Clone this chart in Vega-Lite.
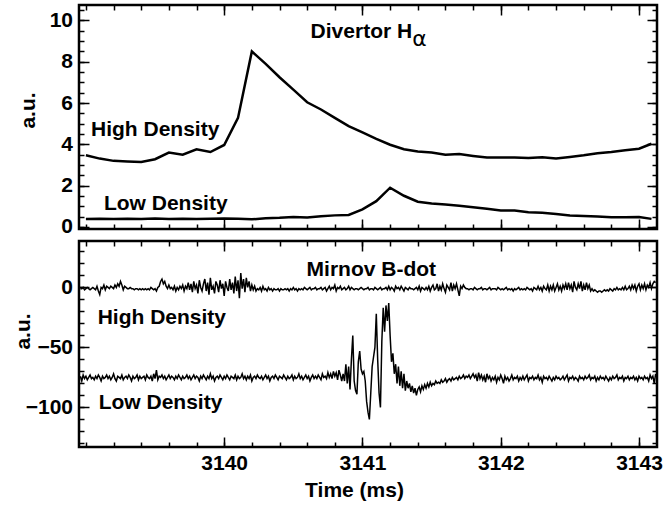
{
"$schema":"https://vega.github.io/schema/vega-lite/v6.json",
"background":"white",
"padding":{"left":10,"top":3,"right":5,"bottom":5},
"spacing":0,
"config":{
"view":{"stroke":"black","strokeWidth":2.5},
"axis":{"domain":false,"grid":false,"tickColor":"black","tickWidth":1.5,"labelFont":"Liberation Sans","labelFontWeight":"bold","labelFontSize":21,"labelColor":"black","titleFont":"Liberation Sans","titleFontWeight":"bold","titleFontSize":21,"titleColor":"black"},
"text":{"font":"Liberation Sans","fontWeight":"bold","fontSize":21,"color":"black","align":"left","baseline":"alphabetic"}
},
"datasets":{
"ha":[
{"t":3139.0,"hi":3.47,"lo":0.38},{"t":3139.1,"hi":3.31,"lo":0.4},{"t":3139.2,"hi":3.2,"lo":0.38},{"t":3139.3,"hi":3.17,"lo":0.4},{"t":3139.4,"hi":3.15,"lo":0.38},{"t":3139.5,"hi":3.28,"lo":0.41},{"t":3139.6,"hi":3.6,"lo":0.39},{"t":3139.7,"hi":3.5,"lo":0.4},{"t":3139.8,"hi":3.76,"lo":0.38},{"t":3139.9,"hi":3.63,"lo":0.4},
{"t":3140.0,"hi":3.97,"lo":0.41},{"t":3140.1,"hi":5.28,"lo":0.4},{"t":3140.2,"hi":8.5,"lo":0.37},{"t":3140.3,"hi":7.9,"lo":0.42},{"t":3140.4,"hi":7.25,"lo":0.44},{"t":3140.5,"hi":6.65,"lo":0.48},{"t":3140.6,"hi":6.04,"lo":0.46},{"t":3140.7,"hi":5.69,"lo":0.52},{"t":3140.8,"hi":5.28,"lo":0.56},{"t":3140.9,"hi":4.88,"lo":0.58},
{"t":3141.0,"hi":4.58,"lo":0.85},{"t":3141.1,"hi":4.27,"lo":1.25},{"t":3141.2,"hi":3.98,"lo":1.9},{"t":3141.3,"hi":3.76,"lo":1.51},{"t":3141.4,"hi":3.65,"lo":1.22},{"t":3141.5,"hi":3.6,"lo":1.14},{"t":3141.6,"hi":3.5,"lo":1.09},{"t":3141.7,"hi":3.53,"lo":1.03},{"t":3141.8,"hi":3.44,"lo":0.95},{"t":3141.9,"hi":3.36,"lo":0.88},
{"t":3142.0,"hi":3.36,"lo":0.8},{"t":3142.1,"hi":3.36,"lo":0.8},{"t":3142.2,"hi":3.34,"lo":0.71},{"t":3142.3,"hi":3.37,"lo":0.69},{"t":3142.4,"hi":3.31,"lo":0.63},{"t":3142.5,"hi":3.39,"lo":0.55},{"t":3142.6,"hi":3.47,"lo":0.53},{"t":3142.7,"hi":3.57,"lo":0.5},{"t":3142.8,"hi":3.63,"lo":0.47},{"t":3142.9,"hi":3.71,"lo":0.47},
{"t":3143.0,"hi":3.79,"lo":0.48},{"t":3143.09,"hi":4.03,"lo":0.39}
],
"mb":[
{"t":3138.96,"h":-1,"l":-74},{"t":3138.97,"h":-1,"l":-78},{"t":3138.98,"h":0,"l":-73},{"t":3138.99,"h":-2,"l":-76},{"t":3139.0,"h":-1,"l":-74},{"t":3139.01,"h":0,"l":-77},{"t":3139.02,"h":-1,"l":-75},{"t":3139.03,"h":-2,"l":-73},{"t":3139.04,"h":-1,"l":-76},{"t":3139.05,"h":0,"l":-75},
{"t":3139.06,"h":-1,"l":-77},{"t":3139.07,"h":-2,"l":-74},{"t":3139.08,"h":1,"l":-76},{"t":3139.09,"h":-3,"l":-73},{"t":3139.1,"h":-6,"l":-75},{"t":3139.11,"h":0,"l":-78},{"t":3139.12,"h":-1,"l":-74},{"t":3139.13,"h":2,"l":-76},{"t":3139.14,"h":-2,"l":-75},{"t":3139.15,"h":1,"l":-73},
{"t":3139.16,"h":0,"l":-76},{"t":3139.17,"h":-1,"l":-74},{"t":3139.18,"h":1,"l":-77},{"t":3139.19,"h":0,"l":-75},{"t":3139.2,"h":-1,"l":-72},{"t":3139.21,"h":2,"l":-76},{"t":3139.22,"h":0,"l":-78},{"t":3139.23,"h":3,"l":-74},{"t":3139.24,"h":1,"l":-75},{"t":3139.25,"h":5,"l":-76},
{"t":3139.26,"h":2,"l":-73},{"t":3139.27,"h":-2,"l":-77},{"t":3139.28,"h":1,"l":-75},{"t":3139.29,"h":0,"l":-74},{"t":3139.3,"h":-1,"l":-76},{"t":3139.31,"h":-1,"l":-73},{"t":3139.32,"h":0,"l":-75},{"t":3139.33,"h":-1,"l":-78},{"t":3139.34,"h":-1,"l":-74},{"t":3139.35,"h":-2,"l":-76},
{"t":3139.36,"h":-1,"l":-75},{"t":3139.37,"h":-1,"l":-73},{"t":3139.38,"h":-2,"l":-77},{"t":3139.39,"h":-1,"l":-74},{"t":3139.4,"h":-2,"l":-76},{"t":3139.41,"h":-1,"l":-75},{"t":3139.42,"h":-2,"l":-74},{"t":3139.43,"h":-1,"l":-77},{"t":3139.44,"h":-2,"l":-73},{"t":3139.45,"h":-1,"l":-75},
{"t":3139.46,"h":-2,"l":-76},{"t":3139.47,"h":0,"l":-74},{"t":3139.48,"h":-1,"l":-78},{"t":3139.49,"h":-2,"l":-72},{"t":3139.5,"h":-1,"l":-76},{"t":3139.51,"h":-3,"l":-69},{"t":3139.52,"h":0,"l":-77},{"t":3139.53,"h":1,"l":-74},{"t":3139.54,"h":5,"l":-75},{"t":3139.55,"h":7,"l":-73},
{"t":3139.56,"h":3,"l":-76},{"t":3139.57,"h":5,"l":-74},{"t":3139.58,"h":1,"l":-77},{"t":3139.59,"h":-1,"l":-75},{"t":3139.6,"h":2,"l":-73},{"t":3139.61,"h":-1,"l":-76},{"t":3139.62,"h":0,"l":-74},{"t":3139.63,"h":-2,"l":-75},{"t":3139.64,"h":1,"l":-77},{"t":3139.65,"h":-3,"l":-74},
{"t":3139.66,"h":0,"l":-76},{"t":3139.67,"h":-2,"l":-73},{"t":3139.68,"h":1,"l":-75},{"t":3139.69,"h":-1,"l":-77},{"t":3139.7,"h":2,"l":-74},{"t":3139.71,"h":-3,"l":-76},{"t":3139.72,"h":1,"l":-75},{"t":3139.73,"h":-1,"l":-73},{"t":3139.74,"h":4,"l":-76},{"t":3139.75,"h":-2,"l":-74},
{"t":3139.76,"h":3,"l":-77},{"t":3139.77,"h":-4,"l":-75},{"t":3139.78,"h":5,"l":-73},{"t":3139.79,"h":-1,"l":-76},{"t":3139.8,"h":2,"l":-74},{"t":3139.81,"h":-5,"l":-75},{"t":3139.82,"h":6,"l":-78},{"t":3139.83,"h":0,"l":-74},{"t":3139.84,"h":-3,"l":-76},{"t":3139.85,"h":3,"l":-73},
{"t":3139.86,"h":7,"l":-75},{"t":3139.87,"h":-3,"l":-77},{"t":3139.88,"h":4,"l":-74},{"t":3139.89,"h":-6,"l":-76},{"t":3139.9,"h":8,"l":-72},{"t":3139.91,"h":-2,"l":-76},{"t":3139.92,"h":1,"l":-74},{"t":3139.93,"h":-5,"l":-78},{"t":3139.94,"h":5,"l":-75},{"t":3139.95,"h":2,"l":-74},
{"t":3139.96,"h":-4,"l":-76},{"t":3139.97,"h":6,"l":-73},{"t":3139.98,"h":-1,"l":-75},{"t":3139.99,"h":3,"l":-77},{"t":3140.0,"h":-7,"l":-74},{"t":3140.01,"h":5,"l":-76},{"t":3140.02,"h":0,"l":-73},{"t":3140.03,"h":-3,"l":-75},{"t":3140.04,"h":7,"l":-77},{"t":3140.05,"h":-2,"l":-74},
{"t":3140.06,"h":4,"l":-75},{"t":3140.07,"h":-5,"l":-76},{"t":3140.08,"h":9,"l":-73},{"t":3140.09,"h":-3,"l":-77},{"t":3140.1,"h":6,"l":-74},{"t":3140.11,"h":-9,"l":-76},{"t":3140.12,"h":12,"l":-75},{"t":3140.13,"h":-1,"l":-72},{"t":3140.14,"h":7,"l":-76},{"t":3140.15,"h":-4,"l":-74},
{"t":3140.16,"h":8,"l":-77},{"t":3140.17,"h":0,"l":-74},{"t":3140.18,"h":5,"l":-76},{"t":3140.19,"h":-3,"l":-73},{"t":3140.2,"h":2,"l":-78},{"t":3140.21,"h":-2,"l":-75},{"t":3140.22,"h":1,"l":-74},{"t":3140.23,"h":-3,"l":-76},{"t":3140.24,"h":-1,"l":-73},{"t":3140.25,"h":-2,"l":-75},
{"t":3140.26,"h":0,"l":-76},{"t":3140.27,"h":-3,"l":-74},{"t":3140.28,"h":1,"l":-77},{"t":3140.29,"h":-2,"l":-75},{"t":3140.3,"h":-1,"l":-73},{"t":3140.31,"h":-3,"l":-76},{"t":3140.32,"h":0,"l":-74},{"t":3140.33,"h":-2,"l":-78},{"t":3140.34,"h":-1,"l":-75},{"t":3140.35,"h":-3,"l":-74},
{"t":3140.36,"h":-1,"l":-76},{"t":3140.37,"h":-2,"l":-73},{"t":3140.38,"h":-2,"l":-75},{"t":3140.39,"h":-1,"l":-77},{"t":3140.4,"h":-3,"l":-74},{"t":3140.41,"h":-1,"l":-75},{"t":3140.42,"h":-2,"l":-76},{"t":3140.43,"h":-2,"l":-73},{"t":3140.44,"h":-1,"l":-75},{"t":3140.45,"h":-2,"l":-77},
{"t":3140.46,"h":-1,"l":-74},{"t":3140.47,"h":-3,"l":-76},{"t":3140.48,"h":-1,"l":-75},{"t":3140.49,"h":-2,"l":-73},{"t":3140.5,"h":0,"l":-77},{"t":3140.51,"h":-2,"l":-74},{"t":3140.52,"h":-1,"l":-76},{"t":3140.53,"h":-3,"l":-75},{"t":3140.54,"h":-1,"l":-72},{"t":3140.55,"h":-2,"l":-76},
{"t":3140.56,"h":-1,"l":-74},{"t":3140.57,"h":-2,"l":-77},{"t":3140.58,"h":0,"l":-75},{"t":3140.59,"h":-1,"l":-73},{"t":3140.6,"h":-2,"l":-76},{"t":3140.61,"h":-1,"l":-74},{"t":3140.62,"h":0,"l":-78},{"t":3140.63,"h":-2,"l":-75},{"t":3140.64,"h":-1,"l":-73},{"t":3140.65,"h":-1,"l":-76},
{"t":3140.66,"h":0,"l":-74},{"t":3140.67,"h":-2,"l":-76},{"t":3140.68,"h":-1,"l":-73},{"t":3140.69,"h":-1,"l":-75},{"t":3140.7,"h":0,"l":-77},{"t":3140.71,"h":-2,"l":-72},{"t":3140.72,"h":-1,"l":-75},{"t":3140.73,"h":0,"l":-74},{"t":3140.74,"h":-3,"l":-76},{"t":3140.75,"h":-1,"l":-71},
{"t":3140.76,"h":1,"l":-75},{"t":3140.77,"h":-2,"l":-72},{"t":3140.78,"h":0,"l":-76},{"t":3140.79,"h":-1,"l":-70},{"t":3140.8,"h":2,"l":-74},{"t":3140.81,"h":-3,"l":-71},{"t":3140.82,"h":0,"l":-77},{"t":3140.83,"h":-1,"l":-69},{"t":3140.84,"h":1,"l":-73},{"t":3140.85,"h":-2,"l":-78},
{"t":3140.86,"h":-1,"l":-72},{"t":3140.87,"h":0,"l":-78},{"t":3140.88,"h":-2,"l":-64},{"t":3140.89,"h":-1,"l":-80},{"t":3140.9,"h":1,"l":-66},{"t":3140.91,"h":-2,"l":-85},{"t":3140.92,"h":0,"l":-60},{"t":3140.93,"h":-1,"l":-40},{"t":3140.94,"h":-2,"l":-78},{"t":3140.95,"h":-1,"l":-86},
{"t":3140.96,"h":-1,"l":-89},{"t":3140.97,"h":-2,"l":-62},{"t":3140.98,"h":-1,"l":-53},{"t":3140.99,"h":0,"l":-68},{"t":3141.0,"h":-1,"l":-72},{"t":3141.01,"h":-2,"l":-70},{"t":3141.02,"h":-1,"l":-78},{"t":3141.03,"h":-1,"l":-95},{"t":3141.04,"h":0,"l":-104},{"t":3141.05,"h":-2,"l":-110},
{"t":3141.06,"h":-1,"l":-88},{"t":3141.07,"h":-1,"l":-66},{"t":3141.08,"h":-2,"l":-58},{"t":3141.09,"h":0,"l":-50},{"t":3141.1,"h":-1,"l":-22},{"t":3141.11,"h":-2,"l":-60},{"t":3141.12,"h":-1,"l":-88},{"t":3141.13,"h":0,"l":-100},{"t":3141.14,"h":-2,"l":-45},{"t":3141.15,"h":-1,"l":-17},
{"t":3141.16,"h":-1,"l":-37},{"t":3141.17,"h":0,"l":-15},{"t":3141.18,"h":-2,"l":-28},{"t":3141.19,"h":1,"l":-13},{"t":3141.2,"h":-2,"l":-40},{"t":3141.21,"h":0,"l":-62},{"t":3141.22,"h":-1,"l":-55},{"t":3141.23,"h":-3,"l":-72},{"t":3141.24,"h":1,"l":-64},{"t":3141.25,"h":-1,"l":-80},
{"t":3141.26,"h":0,"l":-66},{"t":3141.27,"h":-2,"l":-82},{"t":3141.28,"h":1,"l":-70},{"t":3141.29,"h":-1,"l":-84},{"t":3141.3,"h":-3,"l":-72},{"t":3141.31,"h":0,"l":-86},{"t":3141.32,"h":-1,"l":-78},{"t":3141.33,"h":-2,"l":-84},{"t":3141.34,"h":0,"l":-80},{"t":3141.35,"h":-1,"l":-87},
{"t":3141.36,"h":-1,"l":-82},{"t":3141.37,"h":-2,"l":-88},{"t":3141.38,"h":-1,"l":-84},{"t":3141.39,"h":0,"l":-90},{"t":3141.4,"h":-2,"l":-85},{"t":3141.41,"h":1,"l":-83},{"t":3141.42,"h":-3,"l":-87},{"t":3141.43,"h":0,"l":-82},{"t":3141.44,"h":-1,"l":-85},{"t":3141.45,"h":-2,"l":-81},
{"t":3141.46,"h":0,"l":-84},{"t":3141.47,"h":-2,"l":-80},{"t":3141.48,"h":1,"l":-83},{"t":3141.49,"h":-3,"l":-79},{"t":3141.5,"h":0,"l":-82},{"t":3141.51,"h":2,"l":-80},{"t":3141.52,"h":-2,"l":-81},{"t":3141.53,"h":-1,"l":-78},{"t":3141.54,"h":3,"l":-80},{"t":3141.55,"h":-3,"l":-79},
{"t":3141.56,"h":1,"l":-80},{"t":3141.57,"h":-2,"l":-77},{"t":3141.58,"h":3,"l":-79},{"t":3141.59,"h":-1,"l":-78},{"t":3141.6,"h":-4,"l":-76},{"t":3141.61,"h":2,"l":-79},{"t":3141.62,"h":0,"l":-77},{"t":3141.63,"h":-2,"l":-76},{"t":3141.64,"h":4,"l":-78},{"t":3141.65,"h":-3,"l":-75},
{"t":3141.66,"h":2,"l":-77},{"t":3141.67,"h":-1,"l":-76},{"t":3141.68,"h":3,"l":-75},{"t":3141.69,"h":-2,"l":-77},{"t":3141.7,"h":-7,"l":-74},{"t":3141.71,"h":1,"l":-76},{"t":3141.72,"h":-1,"l":-75},{"t":3141.73,"h":2,"l":-73},{"t":3141.74,"h":0,"l":-76},{"t":3141.75,"h":-1,"l":-74},
{"t":3141.76,"h":-1,"l":-75},{"t":3141.77,"h":-2,"l":-73},{"t":3141.78,"h":-1,"l":-76},{"t":3141.79,"h":-1,"l":-74},{"t":3141.8,"h":-2,"l":-72},{"t":3141.81,"h":0,"l":-75},{"t":3141.82,"h":-1,"l":-73},{"t":3141.83,"h":-2,"l":-78},{"t":3141.84,"h":-1,"l":-71},{"t":3141.85,"h":-1,"l":-76},
{"t":3141.86,"h":0,"l":-73},{"t":3141.87,"h":-2,"l":-77},{"t":3141.88,"h":-1,"l":-74},{"t":3141.89,"h":-1,"l":-79},{"t":3141.9,"h":-2,"l":-72},{"t":3141.91,"h":-1,"l":-76},{"t":3141.92,"h":0,"l":-74},{"t":3141.93,"h":-2,"l":-78},{"t":3141.94,"h":-1,"l":-75},{"t":3141.95,"h":-1,"l":-77},
{"t":3141.96,"h":-1,"l":-74},{"t":3141.97,"h":-2,"l":-79},{"t":3141.98,"h":0,"l":-75},{"t":3141.99,"h":-1,"l":-77},{"t":3142.0,"h":-2,"l":-73},{"t":3142.01,"h":-1,"l":-76},{"t":3142.02,"h":-2,"l":-80},{"t":3142.03,"h":-1,"l":-74},{"t":3142.04,"h":0,"l":-77},{"t":3142.05,"h":-2,"l":-75},
{"t":3142.06,"h":-1,"l":-78},{"t":3142.07,"h":-2,"l":-76},{"t":3142.08,"h":-1,"l":-73},{"t":3142.09,"h":-3,"l":-77},{"t":3142.1,"h":-1,"l":-75},{"t":3142.11,"h":-2,"l":-76},{"t":3142.12,"h":-1,"l":-74},{"t":3142.13,"h":0,"l":-78},{"t":3142.14,"h":-2,"l":-75},{"t":3142.15,"h":-1,"l":-77},
{"t":3142.16,"h":-2,"l":-74},{"t":3142.17,"h":-1,"l":-77},{"t":3142.18,"h":-2,"l":-75},{"t":3142.19,"h":0,"l":-73},{"t":3142.2,"h":-1,"l":-78},{"t":3142.21,"h":-2,"l":-75},{"t":3142.22,"h":-1,"l":-76},{"t":3142.23,"h":-3,"l":-74},{"t":3142.24,"h":0,"l":-77},{"t":3142.25,"h":-1,"l":-75},
{"t":3142.26,"h":-2,"l":-76},{"t":3142.27,"h":1,"l":-73},{"t":3142.28,"h":-2,"l":-77},{"t":3142.29,"h":0,"l":-75},{"t":3142.3,"h":-3,"l":-79},{"t":3142.31,"h":1,"l":-74},{"t":3142.32,"h":-1,"l":-76},{"t":3142.33,"h":-2,"l":-75},{"t":3142.34,"h":2,"l":-77},{"t":3142.35,"h":-3,"l":-74},
{"t":3142.36,"h":1,"l":-76},{"t":3142.37,"h":-2,"l":-78},{"t":3142.38,"h":2,"l":-75},{"t":3142.39,"h":-3,"l":-77},{"t":3142.4,"h":0,"l":-74},{"t":3142.41,"h":3,"l":-76},{"t":3142.42,"h":-2,"l":-75},{"t":3142.43,"h":1,"l":-77},{"t":3142.44,"h":-3,"l":-76},{"t":3142.45,"h":2,"l":-74},
{"t":3142.46,"h":-1,"l":-77},{"t":3142.47,"h":3,"l":-75},{"t":3142.48,"h":-2,"l":-73},{"t":3142.49,"h":4,"l":-78},{"t":3142.5,"h":-1,"l":-75},{"t":3142.51,"h":2,"l":-76},{"t":3142.52,"h":-4,"l":-74},{"t":3142.53,"h":5,"l":-77},{"t":3142.54,"h":0,"l":-75},{"t":3142.55,"h":-2,"l":-76},
{"t":3142.56,"h":3,"l":-78},{"t":3142.57,"h":-1,"l":-74},{"t":3142.58,"h":5,"l":-76},{"t":3142.59,"h":-3,"l":-75},{"t":3142.6,"h":2,"l":-77},{"t":3142.61,"h":-2,"l":-74},{"t":3142.62,"h":4,"l":-76},{"t":3142.63,"h":-1,"l":-75},{"t":3142.64,"h":2,"l":-73},{"t":3142.65,"h":-3,"l":-77},
{"t":3142.66,"h":-1,"l":-75},{"t":3142.67,"h":-3,"l":-76},{"t":3142.68,"h":-2,"l":-74},{"t":3142.69,"h":-3,"l":-78},{"t":3142.7,"h":-4,"l":-75},{"t":3142.71,"h":-3,"l":-77},{"t":3142.72,"h":-3,"l":-74},{"t":3142.73,"h":-4,"l":-76},{"t":3142.74,"h":-3,"l":-75},{"t":3142.75,"h":-2,"l":-77},
{"t":3142.76,"h":-3,"l":-74},{"t":3142.77,"h":-2,"l":-76},{"t":3142.78,"h":-3,"l":-78},{"t":3142.79,"h":-1,"l":-75},{"t":3142.8,"h":-2,"l":-77},{"t":3142.81,"h":-3,"l":-74},{"t":3142.82,"h":-1,"l":-76},{"t":3142.83,"h":-2,"l":-75},{"t":3142.84,"h":0,"l":-73},{"t":3142.85,"h":-2,"l":-77},
{"t":3142.86,"h":-1,"l":-75},{"t":3142.87,"h":-2,"l":-76},{"t":3142.88,"h":0,"l":-74},{"t":3142.89,"h":-2,"l":-78},{"t":3142.9,"h":1,"l":-75},{"t":3142.91,"h":-2,"l":-76},{"t":3142.92,"h":-1,"l":-74},{"t":3142.93,"h":1,"l":-77},{"t":3142.94,"h":-2,"l":-75},{"t":3142.95,"h":2,"l":-76},
{"t":3142.96,"h":-1,"l":-74},{"t":3142.97,"h":2,"l":-77},{"t":3142.98,"h":-3,"l":-75},{"t":3142.99,"h":1,"l":-78},{"t":3143.0,"h":3,"l":-74},{"t":3143.01,"h":-2,"l":-76},{"t":3143.02,"h":2,"l":-75},{"t":3143.03,"h":-1,"l":-77},{"t":3143.04,"h":3,"l":-74},{"t":3143.05,"h":-2,"l":-76},
{"t":3143.06,"h":2,"l":-75},{"t":3143.07,"h":0,"l":-78},{"t":3143.08,"h":4,"l":-73},{"t":3143.09,"h":-1,"l":-76},{"t":3143.1,"h":3,"l":-74},{"t":3143.11,"h":5,"l":-80},{"t":3143.12,"h":4,"l":-72}
],
"ann":[
{"panel":"top","kind":"title","t":3140.625,"v":9.16,"txt":"Divertor H"},
{"panel":"top","kind":"series","t":3139.037,"v":4.39,"txt":"High Density"},
{"panel":"top","kind":"series","t":3139.13,"v":0.83,"txt":"Low Density"},
{"panel":"top","kind":"sub","t":3141.36,"v":8.75,"txt":"α"},
{"panel":"bottom","kind":"title","t":3140.596,"v":9.4,"txt":"Mirnov B-dot"},
{"panel":"bottom","kind":"series","t":3139.085,"v":-30.8,"txt":"High Density"},
{"panel":"bottom","kind":"series","t":3139.092,"v":-101.7,"txt":"Low Density"}
]
},
"vconcat":[
{
"width":578,"height":224,
"resolve":{"axis":{"x":"independent","y":"independent"}},
"layer":[
{"data":{"name":"ha"},"mark":{"type":"line","color":"black","strokeWidth":2.5},
"encoding":{
"x":{"field":"t","type":"quantitative","scale":{"domain":[3138.95,3143.13],"nice":false,"zero":false},"axis":{"orient":"bottom","values":[3140,3141,3142,3143],"tickSize":-10,"labels":false,"title":null}},
"y":{"field":"hi","type":"quantitative","scale":{"domain":[-0.1,10.75],"nice":false,"zero":false},"axis":{"orient":"left","values":[0,2,4,6,8,10],"tickSize":-10,"labelPadding":16.5,"title":"a.u.","titleX":-41,"titleY":105}}
}},
{"data":{"name":"ha"},"mark":{"type":"line","color":"black","strokeWidth":2.5},
"encoding":{
"x":{"field":"t","type":"quantitative","scale":{"domain":[3138.95,3143.13],"nice":false,"zero":false},"axis":{"orient":"bottom","values":[3139,3139.2,3139.4,3139.6,3139.8,3140,3140.2,3140.4,3140.6,3140.8,3141,3141.2,3141.4,3141.6,3141.8,3142,3142.2,3142.4,3142.6,3142.8,3143],"tickSize":-5,"labels":false,"title":null}},
"y":{"field":"lo","type":"quantitative","scale":{"domain":[-0.1,10.75],"nice":false,"zero":false},"axis":{"orient":"left","values":[0,0.5,1,1.5,2,2.5,3,3.5,4,4.5,5,5.5,6,6.5,7,7.5,8,8.5,9,9.5,10,10.5],"tickSize":-5,"labels":false,"title":null}}
}},
{"data":{"name":"ann"},"transform":[{"filter":"datum.panel == 'top' && datum.kind != 'sub'"}],"mark":{"type":"text"},
"encoding":{
"x":{"field":"t","type":"quantitative","scale":{"domain":[3138.95,3143.13],"nice":false,"zero":false},"axis":{"orient":"top","values":[3140,3141,3142,3143],"tickSize":-10,"labels":false,"title":null}},
"y":{"field":"v","type":"quantitative","scale":{"domain":[-0.1,10.75],"nice":false,"zero":false},"axis":{"orient":"right","values":[0,2,4,6,8,10],"tickSize":-10,"labels":false,"title":null}},
"text":{"field":"txt"}
}},
{"data":{"name":"ann"},"transform":[{"filter":"datum.kind == 'sub'"}],"mark":{"type":"text","fontSize":22,"fontWeight":"normal","font":"DejaVu Sans"},
"encoding":{
"x":{"field":"t","type":"quantitative","scale":{"domain":[3138.95,3143.13],"nice":false,"zero":false},"axis":{"orient":"top","values":[3139,3139.2,3139.4,3139.6,3139.8,3140,3140.2,3140.4,3140.6,3140.8,3141,3141.2,3141.4,3141.6,3141.8,3142,3142.2,3142.4,3142.6,3142.8,3143],"tickSize":-5,"labels":false,"title":null}},
"y":{"field":"v","type":"quantitative","scale":{"domain":[-0.1,10.75],"nice":false,"zero":false},"axis":{"orient":"right","values":[0,0.5,1,1.5,2,2.5,3,3.5,4,4.5,5,5.5,6,6.5,7,7.5,8,8.5,9,9.5,10,10.5],"tickSize":-5,"labels":false,"title":null}},
"text":{"field":"txt"}
}}
]
},
{
"width":578,"height":206,
"resolve":{"axis":{"x":"independent","y":"independent"}},
"layer":[
{"data":{"name":"mb"},"mark":{"type":"line","color":"black","strokeWidth":1.5},
"encoding":{
"x":{"field":"t","type":"quantitative","scale":{"domain":[3138.95,3143.13],"nice":false,"zero":false},"axis":{"orient":"bottom","values":[3140,3141,3142,3143],"format":"d","tickSize":-10,"labelPadding":15.5,"title":"Time (ms)","titleX":275,"titleY":32}},
"y":{"field":"h","type":"quantitative","scale":{"domain":[-133,38.7],"nice":false,"zero":false},"axis":{"orient":"left","values":[-100,-50,0],"tickSize":-10,"labelPadding":16.5,"title":"a.u.","titleX":-46,"titleY":90}}
}},
{"data":{"name":"mb"},"mark":{"type":"line","color":"black","strokeWidth":1.5},
"encoding":{
"x":{"field":"t","type":"quantitative","scale":{"domain":[3138.95,3143.13],"nice":false,"zero":false},"axis":{"orient":"bottom","values":[3139,3139.2,3139.4,3139.6,3139.8,3140,3140.2,3140.4,3140.6,3140.8,3141,3141.2,3141.4,3141.6,3141.8,3142,3142.2,3142.4,3142.6,3142.8,3143],"tickSize":-5,"labels":false,"title":null}},
"y":{"field":"l","type":"quantitative","scale":{"domain":[-133,38.7],"nice":false,"zero":false},"axis":{"orient":"left","values":[-130,-120,-110,-100,-90,-80,-70,-60,-50,-40,-30,-20,-10,0,10,20,30],"tickSize":-5,"labels":false,"title":null}}
}},
{"data":{"name":"ann"},"transform":[{"filter":"datum.panel == 'bottom' && datum.kind == 'title'"}],"mark":{"type":"text"},
"encoding":{
"x":{"field":"t","type":"quantitative","scale":{"domain":[3138.95,3143.13],"nice":false,"zero":false},"axis":{"orient":"top","values":[3140,3141,3142,3143],"tickSize":-10,"labels":false,"title":null}},
"y":{"field":"v","type":"quantitative","scale":{"domain":[-133,38.7],"nice":false,"zero":false},"axis":{"orient":"right","values":[-100,-50,0],"tickSize":-10,"labels":false,"title":null}},
"text":{"field":"txt"}
}},
{"data":{"name":"ann"},"transform":[{"filter":"datum.panel == 'bottom' && datum.kind == 'series'"}],"mark":{"type":"text"},
"encoding":{
"x":{"field":"t","type":"quantitative","scale":{"domain":[3138.95,3143.13],"nice":false,"zero":false},"axis":{"orient":"top","values":[3139,3139.2,3139.4,3139.6,3139.8,3140,3140.2,3140.4,3140.6,3140.8,3141,3141.2,3141.4,3141.6,3141.8,3142,3142.2,3142.4,3142.6,3142.8,3143],"tickSize":-5,"labels":false,"title":null}},
"y":{"field":"v","type":"quantitative","scale":{"domain":[-133,38.7],"nice":false,"zero":false},"axis":{"orient":"right","values":[-130,-120,-110,-100,-90,-80,-70,-60,-50,-40,-30,-20,-10,0,10,20,30],"tickSize":-5,"labels":false,"title":null}},
"text":{"field":"txt"}
}}
]
}
]
}
